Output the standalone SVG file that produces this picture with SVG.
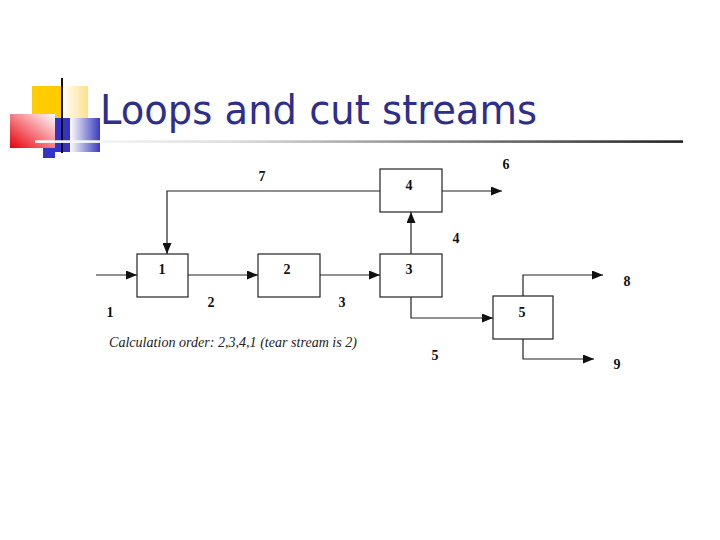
<svg xmlns="http://www.w3.org/2000/svg" width="720" height="540" viewBox="0 0 720 540">
<style>
.box{fill:#fff;stroke:#222;stroke-width:1.2}
.ln{fill:none;stroke:#222;stroke-width:1.2}
.lbl{font-family:"Liberation Serif","Times New Roman",serif;font-weight:bold;font-size:14px;fill:#111;text-anchor:middle}
.title{font-family:"DejaVu Sans",Verdana,sans-serif;font-size:41px;fill:#2e2e8c}
.note{font-family:"Liberation Serif","Times New Roman",serif;font-style:italic;font-size:14.5px;fill:#222}
</style>
<defs>
<marker id="ah" viewBox="0 0 11 9" refX="11" refY="4.5" markerWidth="11" markerHeight="9" markerUnits="userSpaceOnUse" orient="auto">
<path d="M0,0 L11,4.5 L0,9 Z" fill="#111"/>
</marker>
<linearGradient id="gLine" x1="35" y1="0" x2="683" y2="0" gradientUnits="userSpaceOnUse">
<stop offset="0" stop-color="#fff"/>
<stop offset="0.3" stop-color="#ddd"/>
<stop offset="1" stop-color="#222"/>
</linearGradient>
<linearGradient id="gRed" x1="0" y1="1" x2="1" y2="0">
<stop offset="0" stop-color="#e8000a"/>
<stop offset="1" stop-color="#fff"/>
</linearGradient>
<linearGradient id="gYel" x1="0" y1="0" x2="1" y2="0">
<stop offset="0" stop-color="#fff"/>
<stop offset="1" stop-color="#fde08a"/>
</linearGradient>
<linearGradient id="gBlue" x1="0" y1="0" x2="1" y2="0">
<stop offset="0" stop-color="#fff"/>
<stop offset="1" stop-color="#3a3ac0"/>
</linearGradient>
</defs>

<g id="decoration">
<rect x="32" y="86" width="30" height="32" fill="#ffcc00"/>
<rect x="62" y="86" width="26" height="32" fill="url(#gYel)"/>
<rect x="43" y="118" width="27" height="34" fill="#3333cc"/>
<rect x="43" y="148" width="12" height="10" fill="#3333cc"/>
<rect x="70" y="118" width="30" height="34" fill="url(#gBlue)"/>
<rect x="10" y="114" width="45" height="34" fill="url(#gRed)"/>
<rect x="61" y="78" width="2" height="75" fill="#111"/>
</g>

<g id="title">
<text class="title" x="100" y="123.5" textLength="437" lengthAdjust="spacingAndGlyphs">Loops and cut streams</text>
<rect x="35" y="140.3" width="648" height="2.6" fill="url(#gLine)"/>
</g>

<g id="connectors">
<path class="ln" d="M96,275 H137" marker-end="url(#ah)"/>
<path class="ln" d="M188,275 H258" marker-end="url(#ah)"/>
<path class="ln" d="M320,275 H380" marker-end="url(#ah)"/>
<path class="ln" d="M380,191 H167 V254" marker-end="url(#ah)"/>
<path class="ln" d="M411,254 V212" marker-end="url(#ah)"/>
<path class="ln" d="M442,191 H502" marker-end="url(#ah)"/>
<path class="ln" d="M411,297 V318 H493" marker-end="url(#ah)"/>
<path class="ln" d="M523,296 V275 H603" marker-end="url(#ah)"/>
<path class="ln" d="M523,339 V359 H594" marker-end="url(#ah)"/>
</g>

<g id="node1"><rect class="box" x="137" y="254" width="51" height="43"/><text class="lbl" x="162" y="274">1</text></g>
<g id="node2"><rect class="box" x="258" y="254" width="62" height="43"/><text class="lbl" x="287" y="274">2</text></g>
<g id="node3"><rect class="box" x="380" y="254" width="62" height="43"/><text class="lbl" x="409" y="274">3</text></g>
<g id="node4"><rect class="box" x="380" y="169" width="62" height="43"/><text class="lbl" x="409" y="190">4</text></g>
<g id="node5"><rect class="box" x="493" y="296" width="60" height="43"/><text class="lbl" x="522" y="317">5</text></g>

<g id="stream-labels">
<text class="lbl" x="262" y="181">7</text>
<text class="lbl" x="506" y="169">6</text>
<text class="lbl" x="456" y="243">4</text>
<text class="lbl" x="110" y="317">1</text>
<text class="lbl" x="211" y="307">2</text>
<text class="lbl" x="342" y="307">3</text>
<text class="lbl" x="627" y="286">8</text>
<text class="lbl" x="435" y="360">5</text>
<text class="lbl" x="617" y="369">9</text>
</g>

<text class="note" x="109" y="346.7" textLength="248" lengthAdjust="spacingAndGlyphs">Calculation order: 2,3,4,1 (tear stream is 2)</text>
</svg>
